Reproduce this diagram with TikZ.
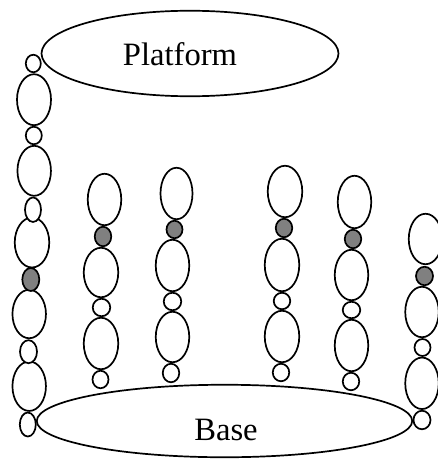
\documentclass[tikz,border=0pt]{standalone}
\usepackage{fontspec}
\setmainfont{Liberation Serif}
\usetikzlibrary{shapes.geometric}

\definecolor{jointgray}{gray}{0.5}

\tikzset{
  body/.style={ellipse, draw=black, line width=1.7pt, fill=white, inner sep=0pt, outer sep=0pt},
  sz/.style 2 args={minimum width=#1pt, minimum height=#2pt},
  link/.style={body},
  pin/.style={body},
  joint/.style={body, fill=jointgray},
  deck/.style={body},
  caption/.style={font=\fontsize{32.6}{36}\selectfont, anchor=base, inner sep=0pt}
}

\begin{document}
\begin{tikzpicture}[x=1pt, y=-1pt]
\useasboundingbox (0,0) rectangle (438,460);

% platform and base
\node[deck, sz={297}{85.5}] (platform) at (190,53.5) {};
\node[deck, sz={375.5}{72.5}] (base) at (224.5,421) {};
\node[caption] (platformtext) at (180,65) {Platform};
\node[caption] (basetext) at (226,440) {Base};

% leg 1 (left, reaching the platform)
\node[link, sz={34}{51}]     (l1a) at (34,99.7) {};
\node[link, sz={33.5}{50}]   (l1b) at (34.2,170.8) {};
\node[link, sz={34.5}{50}]   (l1c) at (32,242.5) {};
\node[link, sz={33.5}{48.5}] (l1d) at (29.2,314) {};
\node[link, sz={33.5}{49.5}] (l1e) at (29.2,386.2) {};
\node[pin, sz={15}{17.5}]    (p1a) at (33.3,63.5) {};
\node[pin, sz={16}{17.5}]    (p1b) at (33.8,135.5) {};
\node[pin, sz={16}{24.5}]    (p1c) at (33,209.7) {};
\node[joint, sz={17}{23}]    (g1)  at (30.8,279.5) {};
\node[pin, sz={17}{23}]      (p1d) at (28.5,351.7) {};
\node[pin, sz={16}{24}]      (p1e) at (27.8,424.5) {};

% leg 2
\node[link, sz={33.5}{51.5}] (l2a) at (104.5,199.5) {};
\node[link, sz={34.5}{49.5}] (l2b) at (101,272.5) {};
\node[link, sz={34.5}{51.5}] (l2c) at (101,343.5) {};
\node[joint, sz={16.5}{19.5}] (g2) at (103,236.5) {};
\node[pin, sz={17.5}{17.5}]  (p2a) at (101.5,307.5) {};
\node[pin, sz={16}{17.5}]    (p2b) at (100.5,379.5) {};

% leg 3
\node[link, sz={32}{51.5}]   (l3a) at (176.5,193.5) {};
\node[link, sz={33.5}{51.5}] (l3b) at (172.5,265.5) {};
\node[link, sz={33.5}{50.5}] (l3c) at (172.5,337) {};
\node[joint, sz={16}{17.5}]  (g3)  at (174.5,229.5) {};
\node[pin, sz={17.5}{17.5}]  (p3a) at (172.5,301.5) {};
\node[pin, sz={16.5}{18.5}]  (p3b) at (171,373) {};

% leg 4
\node[link, sz={34.5}{51.5}] (l4a) at (285,191.5) {};
\node[link, sz={34.5}{52.5}] (l4b) at (282,265) {};
\node[link, sz={34.5}{51.5}] (l4c) at (282,336.5) {};
\node[joint, sz={16.5}{18.5}] (g4) at (284,228) {};
\node[pin, sz={16.5}{16.5}]  (p4a) at (282,301) {};
\node[pin, sz={16.5}{17.5}]  (p4b) at (281,372.5) {};

% leg 5
\node[link, sz={33.5}{52.5}] (l5a) at (354.5,202) {};
\node[link, sz={33.5}{50.5}] (l5b) at (351.5,275) {};
\node[link, sz={33.5}{51.5}] (l5c) at (351.5,345.5) {};
\node[joint, sz={16.5}{18.5}] (g5) at (353,239) {};
\node[pin, sz={17.5}{16.5}]  (p5a) at (351.5,310) {};
\node[pin, sz={16.5}{17.5}]  (p5b) at (351,381.5) {};

% leg 6 (right, standing on the base)
\node[link, sz={33.5}{50.5}] (l6a) at (425.5,239) {};
\node[link, sz={33.5}{50.5}] (l6b) at (422,312) {};
\node[link, sz={33.5}{51.5}] (l6c) at (422,383.3) {};
\node[joint, sz={17}{18.5}]  (g6)  at (424.5,276) {};
\node[pin, sz={16}{17}]      (p6a) at (422.5,347.5) {};
\node[pin, sz={17}{18.5}]    (p6b) at (422,420) {};
\end{tikzpicture}
\end{document}
